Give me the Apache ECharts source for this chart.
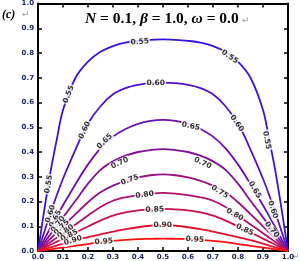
<!DOCTYPE html>
<html><head><meta charset="utf-8">
<script src="https://cdn.jsdelivr.net/npm/echarts@6/dist/echarts.min.js"></script>
<style>html,body{margin:0;padding:0;background:#fff}#c{width:300px;height:261px}</style>
</head><body><div id="c"></div>
<script>
// contour sample x positions
const xs = [0,0.01,0.025,0.05,0.075,0.1,0.15,0.2,0.25,0.3,0.35,0.4,0.45,0.5,0.55,0.6,0.65,0.7,0.75,0.8,0.85,0.9,0.925,0.95,0.975,0.99,1];
const levels = ['0.55','0.60','0.65','0.70','0.75','0.80','0.85','0.90','0.95'];
const c055 = [0,0.065,0.165,0.32,0.45,0.57,0.70,0.765,0.805,0.828,0.842,0.849,0.853,0.855,0.853,0.849,0.842,0.828,0.805,0.765,0.70,0.57,0.45,0.32,0.165,0.065,0];
const c060 = [0,0.031,0.077,0.153,0.225,0.292,0.41,0.515,0.585,0.633,0.658,0.671,0.678,0.68,0.678,0.671,0.658,0.633,0.585,0.515,0.41,0.292,0.225,0.153,0.077,0.031,0];
const c065 = [0,0.019,0.047,0.094,0.14,0.185,0.27,0.35,0.415,0.462,0.493,0.514,0.526,0.53,0.526,0.514,0.493,0.462,0.415,0.35,0.27,0.185,0.14,0.094,0.047,0.019,0];
const c070 = [0,0.0137,0.034,0.068,0.102,0.136,0.203,0.272,0.328,0.362,0.385,0.4,0.408,0.412,0.408,0.4,0.385,0.362,0.328,0.272,0.203,0.136,0.102,0.068,0.034,0.0137,0];
const c075 = [0,0.01,0.025,0.05,0.075,0.1,0.149,0.197,0.237,0.264,0.283,0.297,0.306,0.31,0.306,0.297,0.283,0.264,0.237,0.197,0.149,0.1,0.075,0.05,0.025,0.01,0];
const c080 = [0,0.0072,0.018,0.036,0.054,0.072,0.107,0.143,0.178,0.203,0.217,0.226,0.232,0.235,0.232,0.226,0.217,0.203,0.178,0.143,0.107,0.072,0.054,0.036,0.018,0.0072,0];
const c085 = [0,0.005,0.0125,0.025,0.0375,0.05,0.075,0.099,0.123,0.143,0.156,0.164,0.168,0.17,0.168,0.164,0.156,0.143,0.123,0.099,0.075,0.05,0.0375,0.025,0.0125,0.005,0];
const c090 = [0,0.003,0.0075,0.015,0.022,0.03,0.044,0.056,0.067,0.078,0.088,0.096,0.102,0.105,0.102,0.096,0.088,0.078,0.067,0.056,0.044,0.03,0.022,0.015,0.0075,0.003,0];
const c095 = [0,0.0014,0.0035,0.007,0.0105,0.014,0.021,0.028,0.036,0.041,0.045,0.048,0.049,0.05,0.049,0.048,0.045,0.041,0.036,0.028,0.021,0.014,0.0105,0.007,0.0035,0.0014,0];
const colors = ['#3a12e0','#5212c8','#6a10b0','#80109a','#981080','#b01068','#c8104c','#e41030','#ff1010'];
// contour label placements (data coords) and rotation
const labText = ['0.55','0.55','0.55','0.55','0.55','0.60','0.60','0.60','0.60','0.65','0.65','0.65','0.70','0.70','0.70','0.75','0.75','0.80','0.80','0.85','0.85','0.90','0.95','0.95',
  '0.60','0.65','0.70','0.75','0.80','0.85','0.90'];
const labX = [0.407,0.123,0.767,0.915,0.043,0.471,0.187,0.795,0.939,0.267,0.611,0.867,0.327,0.659,0.935,0.367,0.727,0.427,0.787,0.467,0.827,0.499,0.263,0.627,
  0.05,0.07,0.08,0.095,0.11,0.125,0.14];
const labY = [0.845,0.633,0.785,0.448,0.27,0.68,0.488,0.516,0.167,0.443,0.504,0.247,0.355,0.355,0.086,0.287,0.239,0.227,0.147,0.167,0.086,0.106,0.038,0.046,
  0.15,0.13,0.108,0.095,0.079,0.062,0.042];
const labRot = [5,68,-35,-79,80,0,65,-56,-72,45,-12,-60,25,-25,-52,20,-32,8,-30,3,-26,0,5,-3,
  72,63,54,45,36,27,18];
const tickVals = [0,0.1,0.2,0.3,0.4,0.5,0.6,0.7,0.8,0.9,1.0];

const contours = [c055,c060,c065,c070,c075,c080,c085,c090,c095];
const chart = echarts.init(document.getElementById('c'));
const axisLine = {show:true, onZero:false, lineStyle:{color:'#000', width:2}};
const axisTick = {show:true, inside:true, length:4, lineStyle:{color:'#000', width:1.5}};
const lab = {fontSize:7, fontWeight:'bold', color:'#1a2860', fontFamily:'DejaVu Sans', formatter: v => v.toFixed(1)};
const series = contours.map((c, i) => ({
  type:'line', name: levels[i], data: xs.map((x, j) => [x, c[j]]), smooth: 0.35, symbol:'none',
  lineStyle:{color: colors[i], width:1.8}, z: 2
}));
series.push({
  type:'scatter', symbolSize:0, z:5,
  data: labText.map((t, i) => ({value:[labX[i], labY[i]], label:{formatter:t, rotate:labRot[i]}})),
  label:{show:true, position:'inside', fontSize:7.5, fontWeight:'bold', color:'#000', fontFamily:'DejaVu Sans', backgroundColor:'#fff', padding:[0,1]}
});
chart.setOption({
  animation:false,
  grid:{left:38, top:3, width:250, height:248.5},
  xAxis:[
    {type:'value', min:0, max:1, interval:0.1, position:'bottom', axisLine, axisTick, splitLine:{show:false}, axisLabel:Object.assign({margin:3}, lab)},
    {type:'value', min:0, max:1, interval:0.1, position:'top', axisLine, axisTick, splitLine:{show:false}, axisLabel:{show:false}}
  ],
  yAxis:[
    {type:'value', min:0, max:1, interval:0.1, position:'left', axisLine, axisTick, splitLine:{show:false}, axisLabel:Object.assign({margin:4}, lab)},
    {type:'value', min:0, max:1, interval:0.1, position:'right', axisLine, axisTick, splitLine:{show:false}, axisLabel:{show:false}}
  ],
  series,
  graphic:[
    {type:'text', left:2, top:9, style:{text:'(c)', font:'bold italic 12px "Liberation Serif"', fill:'#000'}},
    {type:'text', left:22, top:10, style:{text:'↵', font:'9px "DejaVu Sans"', fill:'#999'}},
    {type:'text', left:85, top:11, style:{text:'{i|N} = 0.1, {i|β} = 1.0, {i|ω} = 0.0', font:'bold 15.5px "Liberation Serif"', fill:'#000',
      rich:{i:{font:'bold italic 15.5px "Liberation Serif"', fill:'#000'}}}},
    {type:'text', left:242, top:16, style:{text:'↵', font:'9px "DejaVu Sans"', fill:'#999'}},
    {type:'text', left:292, top:252, style:{text:'↵', font:'9px "DejaVu Sans"', fill:'#999'}}
  ]
});
</script></body></html>
